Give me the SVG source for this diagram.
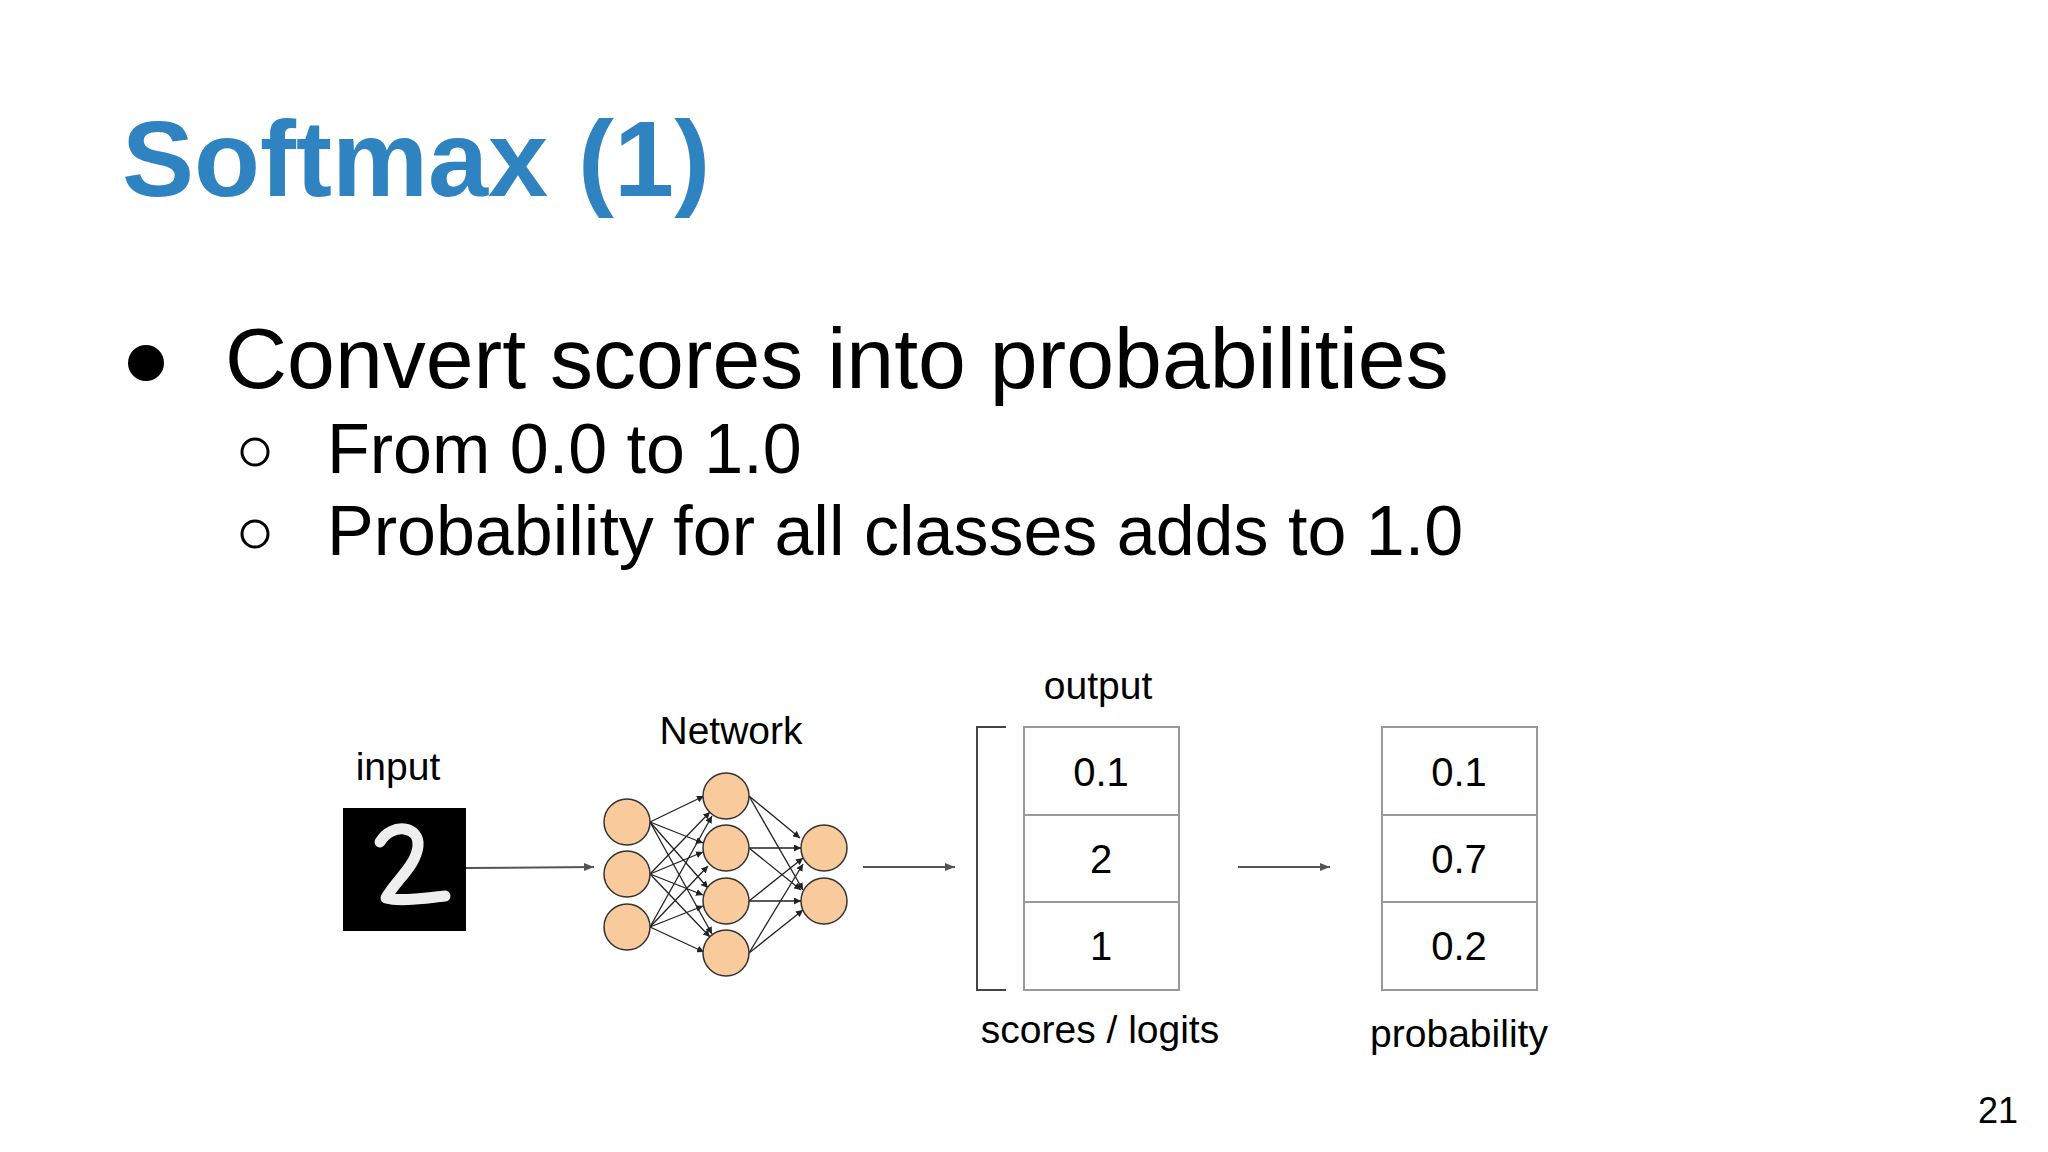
<svg xmlns="http://www.w3.org/2000/svg" width="2048" height="1152" viewBox="0 0 2048 1152">
<defs>
<marker id="ah" viewBox="0 0 10 10" refX="10" refY="5" markerWidth="7" markerHeight="7" markerUnits="userSpaceOnUse" orient="auto"><path d="M0,0L10,5L0,10z" fill="#222"/></marker>
<marker id="ag" viewBox="0 0 10 10" refX="10" refY="5" markerWidth="10" markerHeight="10" markerUnits="userSpaceOnUse" orient="auto"><path d="M0,1L10,5L0,9z" fill="#555"/></marker>
<style>
text{font-family:"Liberation Sans",Arial,sans-serif;fill:#000}
.lab{font-size:39px;text-anchor:middle}
.val{font-size:40px;text-anchor:middle}
.n{fill:#f9cb9c;stroke:#333;stroke-width:1.5}
.e{stroke:#222;stroke-width:1.3;marker-end:url(#ah)}
.box{fill:#fff;stroke:#999;stroke-width:2}
.g{stroke:#555;stroke-width:2;marker-end:url(#ag)}
</style>
</defs>
<rect width="2048" height="1152" fill="#fff"/>
<text x="122" y="196" font-size="108" font-weight="bold" style="fill:#2e83c0">Softmax (1)</text>
<circle cx="146" cy="363" r="18" fill="#000"/>
<text x="225" y="388" font-size="86">Convert scores into probabilities</text>
<circle cx="255" cy="452" r="13" fill="none" stroke="#000" stroke-width="3"/>
<text x="327" y="473" font-size="70">From 0.0 to 1.0</text>
<circle cx="255" cy="534" r="13" fill="none" stroke="#000" stroke-width="3"/>
<text x="327" y="555" font-size="70">Probability for all classes adds to 1.0</text>

<g id="input">
<text class="lab" x="398" y="780">input</text>
<rect x="343" y="808" width="123" height="123" fill="#000"/>
<path d="M380,842 C392,822 420,826 418,846 C416,866 396,880 386,898 C400,902 425,898 445,896" fill="none" stroke="#eee" stroke-width="11" stroke-linecap="round" stroke-linejoin="round"/>
</g>
<g id="network">
<text class="lab" x="731" y="744">Network</text>
<g id="edges">
<line class="e" x1="650" y1="822" x2="704" y2="796"/><line class="e" x1="650" y1="822" x2="703" y2="843"/><line class="e" x1="650" y1="822" x2="708" y2="888"/><line class="e" x1="650" y1="822" x2="712" y2="934"/>
<line class="e" x1="650" y1="874" x2="710" y2="812"/><line class="e" x1="650" y1="874" x2="703" y2="852"/><line class="e" x1="650" y1="874" x2="703" y2="895"/><line class="e" x1="650" y1="874" x2="710" y2="937"/>
<line class="e" x1="650" y1="927" x2="712" y2="816"/><line class="e" x1="650" y1="927" x2="708" y2="866"/><line class="e" x1="650" y1="927" x2="703" y2="906"/><line class="e" x1="650" y1="927" x2="704" y2="952"/>
<line class="e" x1="749" y1="796" x2="800" y2="838"/><line class="e" x1="749" y1="796" x2="803" y2="890"/>
<line class="e" x1="749" y1="848" x2="801" y2="848"/><line class="e" x1="749" y1="848" x2="801" y2="890"/>
<line class="e" x1="749" y1="901" x2="803" y2="858"/><line class="e" x1="749" y1="901" x2="801" y2="901"/>
<line class="e" x1="749" y1="953" x2="803" y2="864"/><line class="e" x1="749" y1="953" x2="803" y2="910"/>
</g>
<circle class="n" cx="627" cy="822" r="23"/><circle class="n" cx="627" cy="874" r="23"/><circle class="n" cx="627" cy="927" r="23"/>
<circle class="n" cx="726" cy="796" r="23"/><circle class="n" cx="726" cy="848" r="23"/><circle class="n" cx="726" cy="901" r="23"/><circle class="n" cx="726" cy="953" r="23"/>
<circle class="n" cx="824" cy="848" r="23"/><circle class="n" cx="824" cy="901" r="23"/>
</g>
<g id="output">
<text class="lab" x="1098" y="699">output</text>
<path d="M1006,727 H977 V990 H1006" fill="none" stroke="#444" stroke-width="2"/>
<rect class="box" x="1024" y="727" width="155" height="88"/><rect class="box" x="1024" y="815" width="155" height="87"/><rect class="box" x="1024" y="902" width="155" height="88"/>
<text class="val" x="1101" y="786">0.1</text><text class="val" x="1101" y="873">2</text><text class="val" x="1101" y="960">1</text>
<text class="lab" x="1100" y="1043">scores / logits</text>
</g>
<g id="probability">
<rect class="box" x="1382" y="727" width="155" height="88"/><rect class="box" x="1382" y="815" width="155" height="87"/><rect class="box" x="1382" y="902" width="155" height="88"/>
<text class="val" x="1459" y="786">0.1</text><text class="val" x="1459" y="873">0.7</text><text class="val" x="1459" y="960">0.2</text>
<text class="lab" x="1459" y="1047">probability</text>
</g>
<g id="connectors">
<line class="g" x1="466" y1="868" x2="594" y2="867"/>
<line class="g" x1="863" y1="867" x2="955" y2="867"/>
<line class="g" x1="1238" y1="867" x2="1330" y2="867"/>
</g>
<text x="2018" y="1123" font-size="36" text-anchor="end">21</text>
</svg>
